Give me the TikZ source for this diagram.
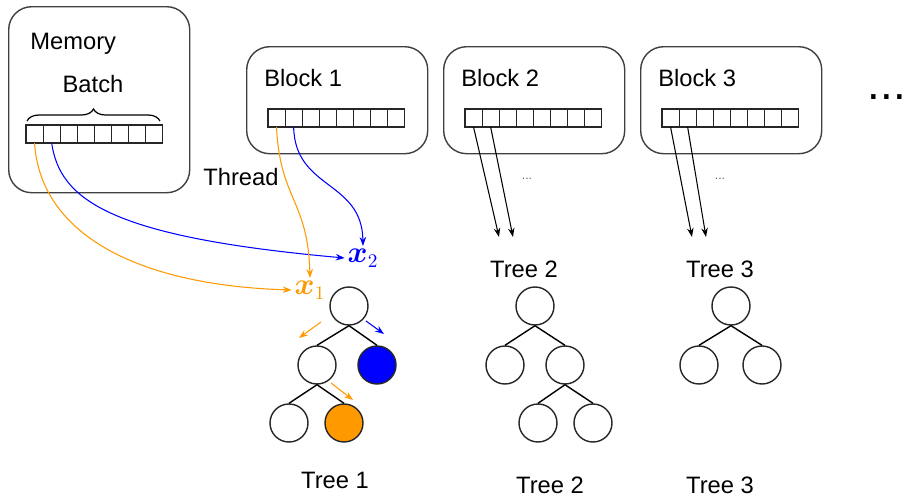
\documentclass[tikz,border=0pt]{standalone}
\usepackage[no-math]{fontspec}
\setmainfont{Liberation Sans}
\usepackage{amsmath}
\usetikzlibrary{arrows.meta,decorations.pathreplacing}
\tikzset {>={Stealth[length=1.8mm,width=1.3mm]}}
\definecolor{gorange}{HTML}{FF9900}
\definecolor{gblue}{HTML}{0000FF}

\tikzset{
  box/.style={draw=black!75, line width=0.8pt, rounded corners=4.6mm, anchor=north west, inner sep=0pt},
  cell/.style={draw=black!85, line width=0.6pt, minimum width=3.42mm, minimum height=3.6mm, inner sep=0pt, outer sep=0pt},
  leaf/.style={circle, draw=black!85, line width=0.8pt, minimum size=7.6mm, inner sep=0pt},
  lbl/.style={font=\fontsize{13.5}{16}\selectfont, inner sep=0pt},
  wire/.style={line width=0.6pt, ->},
}

\begin{document}
\begin{tikzpicture}[x=0.2mm,y=-0.2mm]
\useasboundingbox (0,0) rectangle (904,497);

% Memory with the batch
\node[box, minimum width=36.2mm, minimum height=37.2mm] (memory) at (8,6) {};
\node[lbl, anchor=base west] (memory-title) at (30,49) {Memory};
\node[lbl, anchor=base] (batch) at (93,92) {Batch};
\foreach \i in {1,...,8}
  \node[cell] (mem-\i) at ({26+17.1*(\i-0.5)},134) {};
\draw [line width=0.7pt, decorate, decoration={brace, amplitude=2.4mm}] (27,121) -- (160,121);

% Blocks, each with its own array
\foreach \b/\x in {1/268,2/465,3/662} {
  \node[box, minimum width=36.2mm, minimum height=21.4mm] (block\b) at ({\x-22},46) {};
  \node[lbl, anchor=base west] (block\b-title) at ({\x-4},86) {Block \b};
  \foreach \i in {1,...,8}
    \node[cell] (b\b-\i) at ({\x+17.1*(\i-0.5)},118) {};
}
\node[font=\fontsize{26}{26}\selectfont, anchor=base, inner sep=0pt] (more) at (887,99) {...};
\node[lbl, anchor=base west] (thread) at (203,185) {Thread};

% Tree 1
\node[leaf] (t1) at (349,306) {};
\node[leaf] (t1-l) at (317,365) {};
\node[leaf, fill=gblue] (t1-r) at (377,365) {};
\node[leaf] (t1-ll) at (289,423) {};
\node[leaf, fill=gorange] (t1-lr) at (344,423) {};
\draw [line width=0.8pt] (t1.south) -- (t1-l.north);
\draw [line width=0.8pt] (t1.south) -- (t1-r.north);
\draw [line width=0.8pt] (t1-l.south) -- (t1-ll.north);
\draw [line width=0.8pt] (t1-l.south) -- (t1-lr.north);
\node[lbl, anchor=base] (t1-name) at (335,488) {Tree 1};

% Tree 2
\node[leaf] (t2) at (535,306) {};
\node[leaf] (t2-l) at (505,365) {};
\node[leaf] (t2-r) at (565,365) {};
\node[leaf] (t2-rl) at (538,423) {};
\node[leaf] (t2-rr) at (593,423) {};
\draw [line width=0.8pt] (t2.south) -- (t2-l.north);
\draw [line width=0.8pt] (t2.south) -- (t2-r.north);
\draw [line width=0.8pt] (t2-r.south) -- (t2-rl.north);
\draw [line width=0.8pt] (t2-r.south) -- (t2-rr.north);
\node[lbl, anchor=base] (t2-top) at (524,277) {Tree 2};
\node[lbl, anchor=base] (t2-name) at (550,493) {Tree 2};

% Tree 3
\node[leaf] (t3) at (731,306) {};
\node[leaf] (t3-l) at (699,365) {};
\node[leaf] (t3-r) at (762,365) {};
\draw [line width=0.8pt] (t3.south) -- (t3-l.north);
\draw [line width=0.8pt] (t3.south) -- (t3-r.north);
\node[lbl, anchor=base] (t3-top) at (720,277) {Tree 3};
\node[lbl, anchor=base] (t3-name) at (720,493) {Tree 3};

% Samples fed to tree 1
\node[text=gorange, inner sep=1.5pt, font=\fontsize{16}{18}\selectfont] (x1) at (310,290) {$\boldsymbol{x}_1$};
\node[text=gblue, inner sep=1.5pt, font=\fontsize{16}{18}\selectfont] (x2) at (363,258) {$\boldsymbol{x}_2$};
\draw [wire, gorange] (mem-1.south) .. controls (40,230) and (130,285) .. (x1.west);
\draw [wire, gblue] (mem-2.south) .. controls (60,200) and (110,237) .. (x2.west);
\draw [wire, gorange] (b1-1.south) .. controls (280,200) and (308,200) .. (x1.north);
\draw [wire, gblue] (b1-2.south) .. controls (295,190) and (362,180) .. (x2.north);

% Paths taken down tree 1
\draw [wire, gorange] ([shift={(-28,16)}]t1.center) -- ++(-22,16);
\draw [wire, gblue] ([shift={(17,15)}]t1.center) -- ++(18,13);
\draw [wire, gorange] ([shift={(14,18)}]t1-l.center) -- ++(22,17);

% Threads of blocks 2 and 3
\foreach \b/\x in {2/499,3/692} {
  \coordinate (in\b-a) at (\x,237);
  \coordinate (in\b-b) at ({\x+14},237);
  \draw [wire] (b\b-1.south) -- (in\b-a);
  \draw [wire] (b\b-2.south) -- (in\b-b);
  \node[font=\fontsize{7}{8}\selectfont, text=black!60, anchor=base] (gap\b) at ({\x+28},179) {...};
}

\end{tikzpicture}
\end{document}
